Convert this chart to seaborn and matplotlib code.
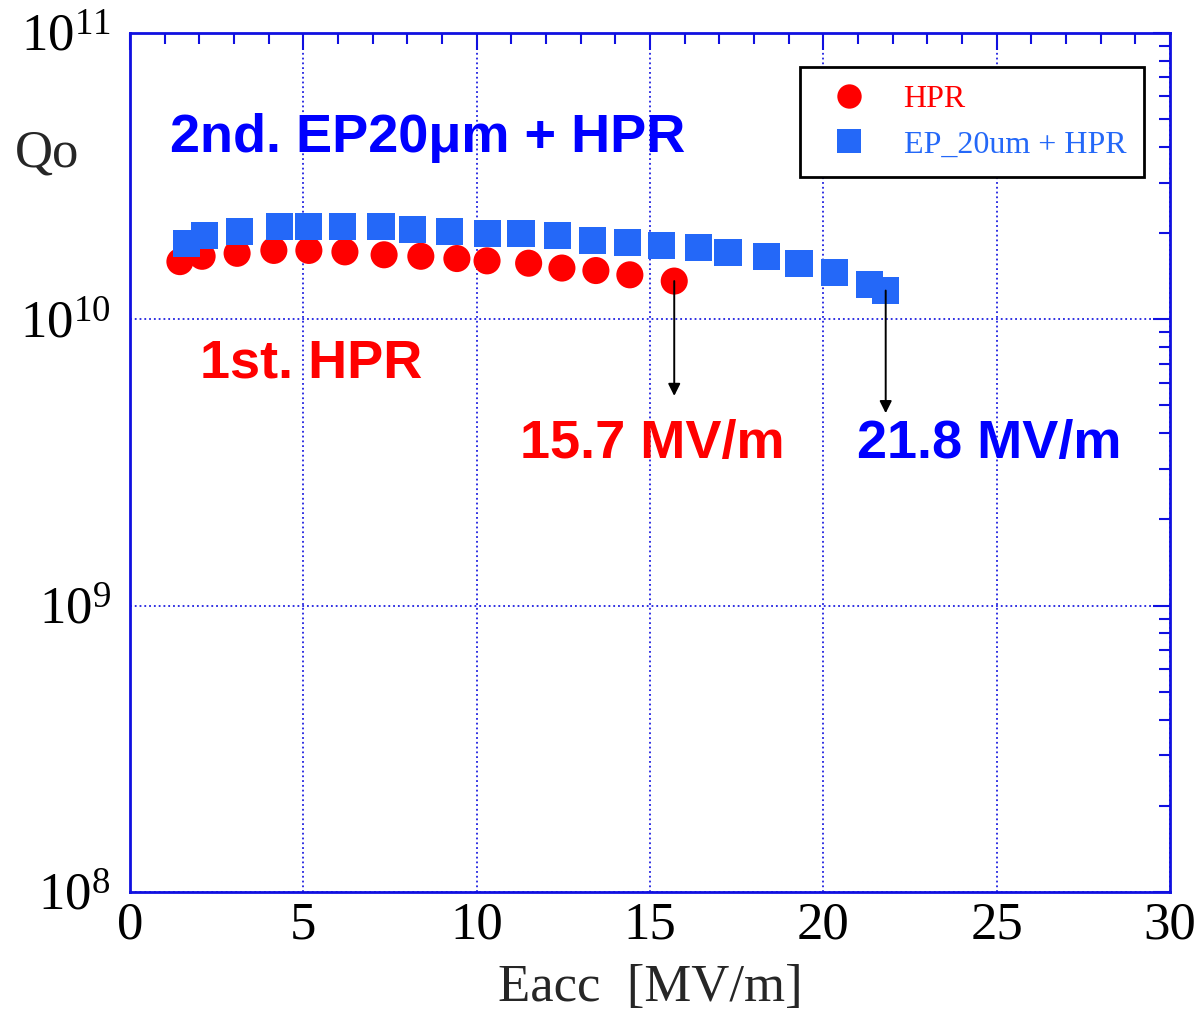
import numpy as np
import pandas as pd
import matplotlib
matplotlib.use('Agg')
import matplotlib.pyplot as plt
from matplotlib.ticker import MultipleLocator, LogLocator, NullFormatter
import seaborn as sns

# --- data ---
hpr_eacc = [1.44, 2.08, 3.09, 4.15, 5.16, 6.2, 7.33, 8.39, 9.43, 10.3,
            11.5, 12.46, 13.44, 14.42, 15.7]
hpr_q0 = [1.59e10, 1.66e10, 1.70e10, 1.74e10, 1.74e10, 1.72e10, 1.68e10, 1.66e10,
          1.63e10, 1.60e10, 1.57e10, 1.51e10, 1.48e10, 1.43e10, 1.36e10]

ep_eacc = [1.64, 2.16, 3.17, 4.30, 5.16, 6.14, 7.24, 8.16, 9.23, 10.3, 11.28,
           12.32, 13.33, 14.36, 15.32, 16.41, 17.25, 18.37, 19.3, 20.33, 21.34, 21.8]
ep_q0 = [1.84e10, 1.96e10, 2.03e10, 2.11e10, 2.11e10, 2.11e10, 2.11e10, 2.06e10,
         2.03e10, 1.99e10, 1.99e10, 1.96e10, 1.88e10, 1.85e10, 1.81e10, 1.78e10,
         1.71e10, 1.66e10, 1.57e10, 1.46e10, 1.32e10, 1.26e10]

series_names = ['HPR', 'EP_20um + HPR']
series_colors = ['#FF0000', '#2468F8']
quench_fields = [15.7, 21.8]

df = pd.DataFrame({
    'Eacc': hpr_eacc + ep_eacc,
    'Q0': hpr_q0 + ep_q0,
    'run': [series_names[0]] * len(hpr_eacc) + [series_names[1]] * len(ep_eacc),
})

sns.set_style('white')
plt.rcParams['font.family'] = ['Liberation Serif', 'DejaVu Serif']
plt.rcParams['mathtext.fontset'] = 'custom'
plt.rcParams['mathtext.rm'] = 'Liberation Serif'

fig = plt.figure(figsize=(11.97, 10.21), dpi=100)
ax = fig.add_axes([0.1086, 0.1264, 0.8688, 0.8413])

# red first, blue squares drawn on top
sns.scatterplot(data=df, x='Eacc', y='Q0', hue='run', style='run',
                palette=dict(zip(series_names, series_colors)),
                markers={series_names[0]: 'o', series_names[1]: 's'},
                s=380, linewidth=0, ax=ax, legend=True)

ax.set_yscale('log')
ax.set_xlim(0, 30)
ax.set_ylim(1e8, 1e11)

spine_col = '#1010E0'
for sp in ax.spines.values():
    sp.set_color(spine_col)
    sp.set_linewidth(2)

ax.xaxis.set_major_locator(MultipleLocator(5))
ax.xaxis.set_minor_locator(MultipleLocator(1))
ax.yaxis.set_major_locator(LogLocator(base=10, numticks=10))
ax.yaxis.set_minor_locator(LogLocator(base=10, subs=np.arange(2, 10), numticks=20))
ax.yaxis.set_minor_formatter(NullFormatter())
ax.tick_params(which='both', direction='in', top=True, right=True, color=spine_col,
               labelsize=38, labelcolor='black')
ax.tick_params(which='major', length=12, width=1.5)
ax.tick_params(axis='x', which='major', pad=7)
ax.tick_params(axis='y', which='major', pad=14)
ax.tick_params(which='minor', length=8, width=1.5)
ax.grid(True, which='major', color='#2020E0', linestyle=':', linewidth=1.3)

ax.set_xlabel('Eacc  [MV/m]', fontsize=38, labelpad=10)
ax.set_ylabel('')
ax.text(-0.111, 0.86, 'Qo', transform=ax.transAxes, fontsize=38, ha='left', va='center')

# annotations
sans = ['Liberation Sans', 'DejaVu Sans']
ax.text(1.15, 4.3e10, '2nd. EP20\u03bcm + HPR', color='#0000FF', fontsize=39,
        fontweight='bold', family=sans, va='center', ha='left')
ax.text(2.02, 7.0e9, '1st. HPR', color='#FF0000', fontsize=39,
        fontweight='bold', family=sans, va='center', ha='left')
ax.text(11.25, 3.68e9, f'{quench_fields[0]} MV/m', color='#FF0000', fontsize=39,
        fontweight='bold', family=sans, va='center', ha='left')
ax.text(20.97, 3.68e9, f'{quench_fields[1]} MV/m', color='#0000FF', fontsize=39,
        fontweight='bold', family=sans, va='center', ha='left')

arrow = dict(arrowstyle='-|>', color='black', lw=1.4, mutation_scale=18,
             shrinkA=0, shrinkB=0)
ax.annotate('', xy=(quench_fields[0], 5.4e9), xytext=(quench_fields[0], hpr_q0[-1]),
            arrowprops=arrow)
ax.annotate('', xy=(quench_fields[1], 4.7e9), xytext=(quench_fields[1], ep_q0[-1]),
            arrowprops=arrow)

leg = ax.legend(loc='upper left', bbox_to_anchor=(0.644, 0.96), fontsize=23,
                frameon=True, fancybox=False, edgecolor='black', framealpha=1,
                markerscale=0.9, handletextpad=0.7, borderpad=0.55,
                labelspacing=0.5, borderaxespad=0)
leg.get_frame().set_linewidth(2)
for txt, col in zip(leg.get_texts(), series_colors):
    txt.set_color(col)

fig.savefig('out.png', dpi=100)
